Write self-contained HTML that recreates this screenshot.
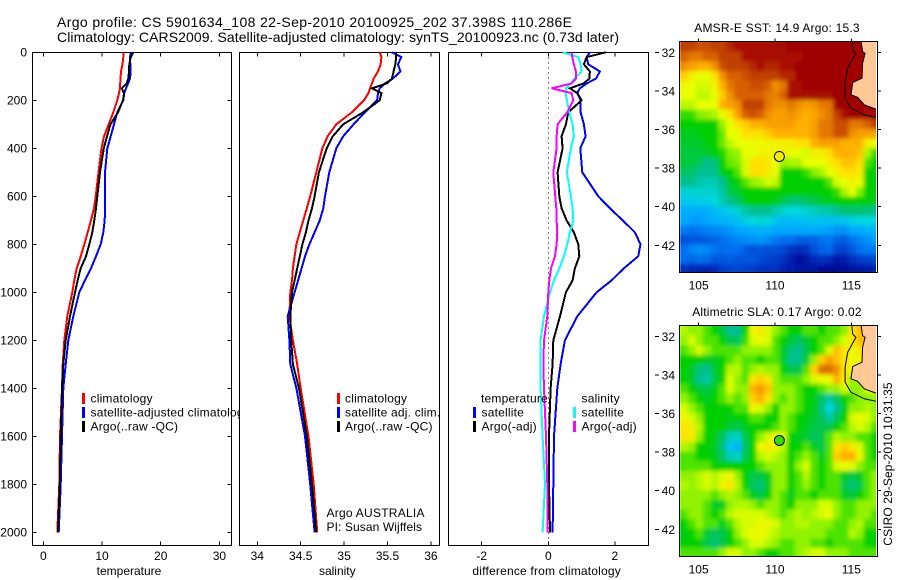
<!DOCTYPE html>
<html lang="en">
<head>
<meta charset="utf-8">
<title>Argo profile 5901634_108</title>
<style>
html,body{margin:0;padding:0;background:#fff;}
svg{display:block;font-family:"Liberation Sans",sans-serif;fill:#000;}
text{font-size:12px;}
</style>
</head>
<body>
<svg id="root" width="900" height="580" viewBox="0 0 900 580" xmlns="http://www.w3.org/2000/svg">
<defs>
<clipPath id="clip-sst"><rect x="679.5" y="42" width="196.5" height="230"/></clipPath>
<clipPath id="clip-sla"><rect x="679.5" y="326" width="196.5" height="230"/></clipPath>
<filter id="soften" x="-5%" y="-5%" width="110%" height="110%"><feGaussianBlur stdDeviation="2"/></filter>
</defs>
<text x="57" y="27" textLength="515" style="font-size:14px">Argo profile: CS 5901634_108 22-Sep-2010 20100925_202 37.398S 110.286E</text>
<text x="57" y="42" textLength="562" style="font-size:14px">Climatology: CARS2009. Satellite-adjusted climatology: synTS_20100923.nc (0.73d later)</text>
<g id="charts"></g>
<g id="maps"></g>
<text x="777" y="32" text-anchor="middle" style="letter-spacing:.2px">AMSR-E SST: 14.9 Argo: 15.3</text>
<text x="777" y="316" text-anchor="middle" style="letter-spacing:.2px">Altimetric SLA: 0.17 Argo: 0.02</text>
<text transform="translate(892,464) rotate(-90)" text-anchor="middle" style="letter-spacing:.1px">CSIRO 29-Sep-2010 10:31:35</text>
</svg>
<script>
const depths = [0,20,50,80,110,130,150,170,200,250,300,350,400,500,600,650,700,750,800,850,900,950,1000,1100,1200,1300,1400,1600,1800,2000];
const tempClim = [13.66,13.63,13.49,13.24,13.15,13.1,13.07,12.9,12.6,11.93,11.14,10.34,9.91,9.4,8.93,8.64,8.13,7.56,6.98,6.37,5.69,5.28,4.94,4.09,3.58,3.3,3.19,2.84,2.73,2.39];
const tempSat = [14.89,14.77,14.82,14.89,14.77,14.43,14.09,13.8,13.63,12.6,12.04,11.48,10.9,10.51,10.51,10.51,10.46,10.22,9.78,8.98,8.13,7.1,6.13,5.11,4.26,3.82,3.41,3.19,2.96,2.62];
const tempArgo = [15.33,14.89,14.65,14.6,14.48,14.2,13.36,13.75,13.58,12.73,11.45,10.85,10.31,9.66,9.2,8.98,8.69,8.35,7.84,7.27,6.37,5.86,5.4,4.55,3.82,3.41,3.19,2.96,2.79,2.5];
const salClim = [35.41,35.43,35.42,35.39,35.34,35.32,35.3,35.28,35.23,35.09,34.91,34.81,34.75,34.68,34.61,34.57,34.53,34.49,34.45,34.43,34.41,34.4,34.38,34.37,34.41,34.46,34.5,34.59,34.65,34.69];
const salSat = [35.55,35.66,35.62,35.65,35.56,35.47,35.41,35.39,35.38,35.24,35.11,34.99,34.91,34.83,34.78,34.76,34.72,34.66,34.6,34.55,34.51,34.47,34.43,34.35,34.37,34.38,34.45,34.55,34.61,34.66];
const salArgo = [35.6,35.6,35.59,35.57,35.55,35.49,35.32,35.43,35.41,35.22,34.99,34.87,34.8,34.71,34.66,34.63,34.59,34.56,34.52,34.49,34.46,34.43,34.4,34.38,34.39,34.41,34.48,34.57,34.63,34.68];
const diffTempSat = [1.25,1.15,1.2,1.55,1.43,1.15,0.95,0.87,0.97,0.97,1.07,1.12,0.96,1.02,1.5,1.85,2.23,2.6,2.77,2.7,2.27,1.9,1.45,0.87,0.5,0.37,0.27,0.17,0.15,0.13];
const diffTempArgo = [1.73,1.15,1.07,1.25,1.23,1.05,0.65,0.87,1,0.6,0.53,0.4,0.43,0.28,0.33,0.4,0.55,0.77,0.9,0.93,0.8,0.73,0.53,0.35,0.15,0.13,0.07,0.02,0.02,0.05];
const diffSalSat = [0.43,0.9,0.97,1,0.78,0.67,0.53,0.52,0.56,0.63,0.73,0.77,0.68,0.56,0.68,0.73,0.75,0.65,0.57,0.47,0.33,0.17,0.05,-0.13,-0.23,-0.23,-0.23,-0.17,-0.1,-0.17];
const diffSalArgo = [0.7,0.72,0.77,0.83,0.83,0.7,0.1,0.7,0.75,0.57,0.28,0.25,0.25,0.15,0.21,0.24,0.25,0.27,0.25,0.2,0.08,0.03,0,-0.03,-0.13,-0.15,-0.13,-0.07,-0.03,-0.03];
const depthTicks = [0,200,400,600,800,1000,1200,1400,1600,1800,2000];
const tempTicks = [0,10,20,30];
const salTicks = [34,34.5,35,35.5,36];
const diffTicks = [-2,0,2];
const lonTicks = [105,110,115];
const latTicks = [32,34,36,38,40,42];
const argoLon = 110.286;
const argoLat = 37.398;
const argoSst = 15.3;
const argoSla = 2;
const coastLon = [115.63,115.74,115.9,115.74,115.7,115.09,114.98,115.41,115.85,116.9];
const coastLat = [31.4,31.97,32.05,32.57,33.34,33.57,34.2,34.33,34.72,35.03];
const shelfLon = [115.02,115.09,115.3,114.76,114.59,114.59,114.98,115.85,116.9];
const shelfLat = [31.4,31.88,32.05,32.83,33.6,34.38,34.9,35.24,35.41];
const sstRows = [
[19,19,18.5,18.5,19,19,19.5,20,20,20,20,20,20,20.5,21,21,21,21,21,21,21,21,21,21,21,21],
[18,17.5,17.5,18,18,19,19,19,20,20,20,20,20,20,20,20,21,21,21,21,21,21,21,21,21,21],
[17,16.5,16,16,17,18.5,19,19,19,19.5,20,19.5,19.5,20,20,21,21,21,21,21,21,21,21,21,21,21],
[15.7,15.3,15,15,15.5,17,18,18,18.5,19,19,19,19,19.5,19.5,21,21,21,21,21,21,21,21,21,21,21],
[15.1,15,14.9,14.9,15.2,16,17.5,18,18,18.5,18.5,18,17,17.5,20,20.5,21,21,21,21,21,21,21,21,21,21],
[15,15,14.8,14.8,15,15.7,17,18,18,18,18,17.5,17.3,18,20,20,20.5,20.5,20.5,20.5,21,21,21,21,21,21],
[14.8,14.8,15,15,15,16,16.5,17,19,19,19,17.5,17,17,17.5,17,16.5,16.8,17.5,17.5,21,21,21,21,21,21],
[14.2,14.2,14.5,14.6,14.7,15,15.5,16.5,18,18.5,18,17,16.5,16.5,17,16.5,16,16.3,17,17.5,19,20,21,21,20.5,20.5],
[14,14,14,14,14,14.6,15,15.5,15.7,16,16,16.5,16.5,16.5,16.5,16,16,16.5,17.5,17.5,18.5,18.5,17.5,17.5,18,19],
[13.8,13.8,13.9,14,14,14.4,15,15,15.5,15.5,15.5,15.7,16,16,16,16,16,16.5,17.5,17.5,18.5,18.5,17,16.5,16.5,16.5],
[13.7,13.7,13.7,13.9,14,14.4,14.8,15,15,15.1,15.1,15.2,15.2,15.3,15.3,15.5,15.5,16,16.5,16.5,16.5,16,16,16,15.3,15],
[13.6,13.6,13.6,13.7,14,14.1,14.5,14.6,15,15,15.2,15.2,15.2,15.2,15,15,14.9,15.2,15.3,15.5,16,16,16,15.8,14.7,14.2],
[13.6,13.6,13.4,13,13.2,14,14.4,14.5,14.9,15.5,15.5,15.4,15,14.6,14.7,14.7,15,15,15,15.3,15.5,15.8,15.8,15.5,14.3,14],
[13.3,13.3,13,13,13,13.8,14,14.3,14.9,15.5,15.5,15.3,15,14,14,14,14.2,14.5,14.7,15,15.2,15.5,15.5,15.3,14,14],
[13,13,12.7,12.5,12.6,13,13.7,14,14.3,14.6,14.7,14.9,14.8,14,14,14,14,14,14,14.3,14.9,15,15.2,15,14,14],
[12.2,12.2,12.2,12.2,12.3,12.7,13.5,13.7,14,14,14,14,14,14,14,14,14,13.9,14,14,14.2,14.7,15,14.5,14,13.9],
[11.7,11.7,11.8,11.8,12,12.5,13,13.3,13.8,14,14,14,13.8,13.5,13.2,13.2,13.3,13.5,13.7,13.8,14,14,14,14,13.9,13.8],
[11.1,11.1,11,11.1,11.4,11.6,11.8,12.2,12.7,13,13,13,12.6,12.2,12,12,12.2,12.4,12.6,12.7,13,13.2,13.2,13.2,13.2,13],
[11,10.8,10.8,11,11.1,11.2,11.3,11.5,11.8,12,12.2,12,11.6,11.4,11.4,11.4,11.5,11.6,11.5,11.5,11.5,11.6,11.8,12,12,12],
[10.2,10,10.1,10.3,10.4,10.5,10.7,11,11,11.1,11.2,11.2,11,11,11,11,11,11,11,10.9,10.6,10.6,11,11,11.2,11.2],
[9.5,9.6,9.6,9.7,9.8,10,10.2,10.4,10.5,10.6,10.7,10.5,10.2,10,10,9.7,9.7,9.8,10,10.1,9.8,9.7,10.1,10.3,10.6,10.8],
[10,10.4,10.6,10.4,10.1,9.9,10,10,9.7,9.5,9.6,9.5,9.5,9.4,9,8.9,9,9.5,9.8,9.9,9.4,9.3,9.6,10,10.2,10.2],
[10,9.8,10,9.9,9.6,9.6,9.7,9.6,9.6,9.6,9.4,9.3,9.2,9,8.6,8.3,8.4,8.8,9,8.9,8.5,8.6,9,9.2,9.3,9.4],
[9,8.8,8.8,8.7,8.9,9.2,9.3,9.4,9.3,9.2,9.1,9,9,8.7,8.6,8.5,8.4,8.5,8.2,8.2,8.2,8.3,8.4,8.4,8.6,8.7]
];
const slaRows = [
[8,6,6,3,0,-5,-12,-12,0,12,15,10,6,3,0,0,3,3,0,3,3,6,15,20,20,20],
[6,10,6,3,3,0,-6,-8,2,10,12,10,3,0,-4,-8,-4,0,3,3,6,10,15,20,20,20],
[3,6,10,6,3,3,3,3,6,6,6,6,3,-3,-10,-12,-6,0,3,10,20,15,12,15,15,15],
[0,0,0,-3,-3,0,3,6,3,3,0,3,3,-3,-12,-12,-4,6,18,25,20,15,12,12,12,12],
[0,-3,-10,-12,-4,0,8,8,3,6,8,6,6,0,-6,-6,3,18,33,33,28,15,12,12,12,12],
[0,-3,-12,-14,-6,0,10,6,3,15,18,15,6,3,3,3,6,10,12,12,22,15,6,8,12,12],
[3,0,-4,-6,-2,3,10,6,6,22,26,20,6,6,6,3,0,0,3,6,6,10,6,6,10,12],
[6,3,0,-3,0,3,6,3,6,18,22,15,6,3,6,3,0,-2,-8,-14,-8,0,3,6,6,6],
[10,6,3,0,0,0,0,3,3,12,10,6,0,6,6,3,0,-3,-10,-20,-12,-3,6,6,8,6],
[12,10,6,0,0,0,-2,0,0,3,3,0,0,6,3,0,-2,-4,-8,-14,-6,0,10,12,10,6],
[15,14,8,0,0,0,-4,-6,-3,0,0,0,3,6,3,0,-3,-6,-6,-6,0,3,8,10,8,3],
[15,14,6,0,-2,-8,-16,-18,-6,0,6,10,12,10,0,-3,-4,-8,-6,3,8,6,6,3,3,0],
[8,6,0,0,-3,-10,-22,-24,-8,0,12,15,12,8,0,0,3,-3,-6,3,15,18,15,10,3,0],
[3,3,0,0,-2,-8,-16,-18,-6,0,8,10,8,6,0,3,6,3,-3,3,18,22,22,12,3,0],
[3,3,3,3,0,0,0,0,0,0,3,6,6,6,0,6,10,3,0,3,10,12,10,6,3,3],
[6,6,8,10,8,10,12,6,0,-6,-6,-2,6,6,0,3,8,3,0,3,3,-3,-6,-3,3,6],
[8,6,8,10,8,13,15,8,0,-8,-10,-3,6,6,0,3,6,3,0,3,3,-6,-10,-6,3,6],
[6,6,6,6,3,6,8,6,3,-3,-6,0,6,3,-2,3,3,0,3,3,3,-3,-5,0,3,6],
[6,6,6,3,-3,-3,6,8,8,6,3,6,6,3,0,6,6,6,10,10,6,3,3,6,6,6],
[3,6,6,3,0,3,8,10,10,10,10,8,6,3,6,8,6,8,10,12,6,3,3,6,6,3],
[0,3,6,3,3,-3,3,8,10,10,12,12,10,6,6,8,8,6,6,6,3,3,6,8,3,3],
[-2,0,3,-4,-8,-6,0,6,10,12,12,10,8,6,6,6,6,6,6,3,3,3,8,6,0,0],
[0,0,0,-6,-10,-6,0,3,6,10,10,8,6,3,3,6,6,3,3,0,3,3,3,3,0,0],
[3,3,3,3,3,6,10,10,6,6,3,0,0,3,3,6,8,10,10,6,6,6,3,3,3,3]
];
const rampColors = ['#00008c','#0030c0','#0070f0','#00a8ff','#00d8e0','#00c090','#00d000','#80f000','#e8ff00','#ffe000','#ffb000','#f09000','#d86000','#c04000','#a81000','#a00000'];
const sstStops = [8,9,10,11,12,13,14,14.5,15,15.5,16,17,18,19,20,21];
const slaStops = [-50,-40,-32,-25,-20,-12,0,5,11,16,22,28,35,42,50,60];

const SVGNS = 'http://www.w3.org/2000/svg';
const charts = document.getElementById('charts');
const maps = document.getElementById('maps');
const PANEL_TOP = 52.5, PANEL_BOTTOM = 545.5;
const yDepth = d => 52.3 + d * 0.24;

function mk(parent, tag, attrs, name) {
  const el = document.createElementNS(SVGNS, tag);
  for (const k in attrs) el.setAttribute(k, attrs[k]);
  
  
  parent.appendChild(el);
  return el;
}
function label(parent, x, y, str, anchor, name) {
  const t = mk(parent, 'text', { x: x, y: y, 'text-anchor': anchor }, name);
  t.textContent = str;
  return t;
}
function hLine(parent, x1, x2, y, name) {
  return mk(parent, 'line', { x1: x1, x2: x2, y1: y, y2: y, stroke: '#000', 'stroke-width': 1, 'shape-rendering': 'crispEdges' }, name);
}
function vLine(parent, x, y1, y2, name) {
  return mk(parent, 'line', { x1: x, x2: x, y1: y1, y2: y2, stroke: '#000', 'stroke-width': 1, 'shape-rendering': 'crispEdges' }, name);
}
function panel(id, left, right) {
  const g = mk(charts, 'g', {}, id + '-panel');
  mk(g, 'rect', { x: left, y: PANEL_TOP, width: right - left, height: PANEL_BOTTOM - PANEL_TOP, fill: '#fff', stroke: '#000', 'stroke-width': 1, 'shape-rendering': 'crispEdges' }, id + '-frame');
  return g;
}
function xAxis(g, id, ticks, xf, title, titleX) {
  ticks.forEach(v => {
    const x = xf(v);
    vLine(g, x, PANEL_TOP, PANEL_TOP + 4, id + '-top-tick');
    vLine(g, x, PANEL_BOTTOM - 4, PANEL_BOTTOM, id + '-bottom-tick');
    label(g, x, 560, String(v), 'middle', id + '-tick-label');
  });
  return label(g, titleX, 575, title, 'middle', id + '-axis-title');
}
function series(g, values, xf, color, name) {
  const pts = values.map((v, i) => xf(v).toFixed(1) + ',' + yDepth(depths[i]).toFixed(1)).join(' ');
  return mk(g, 'polyline', { points: pts, fill: 'none', stroke: color, 'stroke-width': 2, 'shape-rendering': 'crispEdges', 'stroke-linejoin': 'miter' }, name);
}
function legendItem(g, barX, textX, y, color, str, name) {
  if (color) mk(g, 'rect', { x: barX, y: y - 5, width: 3, height: 11, fill: color, 'shape-rendering': 'crispEdges' }, name + '-swatch');
  label(g, textX, y + 4.5, str, 'start', name).style.letterSpacing = '.2px';
}

/* temperature */
const xTemp = v => 43.3 + v * 5.87;
const p1 = panel('temperature', 32.5, 231.5);
xAxis(p1, 'temperature', tempTicks, xTemp, 'temperature', 129);
depthTicks.forEach(d => {
  const y = yDepth(d);
  hLine(p1, 32.5, 36.5, y, 'depth-left-tick');
  hLine(p1, 227.5, 231.5, y, 'depth-right-tick');
  label(p1, 27, y + 4.3, String(d), 'end', 'depth-tick-label');
});
series(p1, tempClim, xTemp, '#ff0000', 'temperature-climatology-line');
series(p1, tempSat, xTemp, '#0000ff', 'temperature-satellite-line');
series(p1, tempArgo, xTemp, '#000000', 'temperature-argo-line');
legendItem(p1, 82, 90.5, 398, '#ff0000', 'climatology', 'temperature-legend-climatology');
legendItem(p1, 82, 90.5, 412, '#0000ff', 'satellite-adjusted climatology', 'temperature-legend-satellite');
legendItem(p1, 82, 90.5, 426, '#000000', 'Argo(..raw -QC)', 'temperature-legend-argo');

/* salinity */
const xSal = v => 257.3 + (v - 34) * 86.8;
const p2 = panel('salinity', 239.5, 439.5);
xAxis(p2, 'salinity', salTicks, xSal, 'salinity', 337.3);
series(p2, salClim, xSal, '#ff0000', 'salinity-climatology-line');
series(p2, salSat, xSal, '#0000ff', 'salinity-satellite-line');
series(p2, salArgo, xSal, '#000000', 'salinity-argo-line');
legendItem(p2, 337, 345, 398, '#ff0000', 'climatology', 'salinity-legend-climatology');
legendItem(p2, 337, 345, 412, '#0000ff', 'satellite adj. clim.', 'salinity-legend-satellite');
legendItem(p2, 337, 345, 426, '#000000', 'Argo(..raw -QC)', 'salinity-legend-argo');
label(p2, 326.5, 517, 'Argo AUSTRALIA', 'start', 'float-country-note').style.letterSpacing = '.25px';
label(p2, 326.5, 531, 'PI: Susan Wijffels', 'start', 'float-pi-note').style.letterSpacing = '.1px';

/* difference */
const xDiff = v => 548.3 + v * 33.3;
const p3 = panel('difference', 448.5, 648.5);
mk(p3, 'line', { x1: xDiff(0), x2: xDiff(0), y1: PANEL_TOP, y2: PANEL_BOTTOM, stroke: '#000', 'stroke-width': 1, 'stroke-dasharray': '1 4', 'shape-rendering': 'crispEdges' }, 'zero-reference-line');
xAxis(p3, 'difference', diffTicks, xDiff, 'difference from climatology', 546.7).style.letterSpacing = '.2px';
series(p3, diffTempSat, xDiff, '#0000ff', 'difference-temperature-satellite-line');
series(p3, diffTempArgo, xDiff, '#000000', 'difference-temperature-argo-line');
series(p3, diffSalSat, xDiff, '#00ffff', 'difference-salinity-satellite-line');
series(p3, diffSalArgo, xDiff, '#ff00ff', 'difference-salinity-argo-line');
legendItem(p3, 0, 481, 398, null, 'temperature', 'difference-legend-temperature-heading');
legendItem(p3, 473, 481.5, 412, '#0000ff', 'satellite', 'difference-legend-temperature-satellite');
legendItem(p3, 473, 481.5, 426, '#000000', 'Argo(-adj)', 'difference-legend-temperature-argo');
legendItem(p3, 0, 581.5, 398, null, 'salinity', 'difference-legend-salinity-heading');
legendItem(p3, 573, 581.5, 412, '#00ffff', 'satellite', 'difference-legend-salinity-satellite');
legendItem(p3, 573, 581.5, 426, '#ff00ff', 'Argo(-adj)', 'difference-legend-salinity-argo');

/* maps */
const xLon = lon => 775 + (lon - 110) * 15.27;
function rampColor(v, stops) {
  if (v <= stops[0]) return rampColors[0];
  for (let i = 1; i < stops.length; i++) {
    if (v <= stops[i]) {
      const f = (v - stops[i - 1]) / (stops[i] - stops[i - 1]);
      const a = rampColors[i - 1], b = rampColors[i];
      let out = '#';
      for (let c = 1; c < 7; c += 2) {
        const ca = parseInt(a.substr(c, 2), 16), cb = parseInt(b.substr(c, 2), 16);
        out += Math.round(ca + (cb - ca) * f).toString(16).padStart(2, '0');
      }
      return out;
    }
  }
  return rampColors[rampColors.length - 1];
}
function drawMap(id, rows, stops, markerValue, top, clip) {
  const yLat = lat => top + 10.6 + (lat - 32) * 19.3;
  const g = mk(maps, 'g', {}, id + '-map');
  const body = mk(g, 'g', { 'clip-path': 'url(#' + clip + ')' }, id + '-map-area');
  const cells = mk(body, 'g', { id: id + '-cells' }, id + '-heatmap');
  rows.forEach((row, r) => {
    row.forEach((v, c) => {
      const lon = 103.8 + c * 0.5;
      const lat = 31.47 + r * 0.5;
      const x0 = xLon(lon), x1 = xLon(lon + 0.5), y0 = yLat(lat), y1 = yLat(lat + 0.5);
      mk(cells, 'rect', { x: x0.toFixed(2), y: y0.toFixed(2), width: (x1 - x0 + 0.3).toFixed(2), height: (y1 - y0 + 0.3).toFixed(2), fill: rampColor(v, stops), 'shape-rendering': 'crispEdges' }, id + '-cell');
    });
  });
  mk(body, 'use', { href: '#' + id + '-cells', filter: 'url(#soften)' }, id + '-heatmap-softened');
  const coastPts = coastLon.map((lon, i) => xLon(lon).toFixed(1) + ',' + yLat(coastLat[i]).toFixed(1));
  const shelfPts = shelfLon.map((lon, i) => xLon(lon).toFixed(1) + ',' + yLat(shelfLat[i]).toFixed(1));
  const landPts = coastPts.concat([xLon(116.9).toFixed(1) + ',' + yLat(31.4).toFixed(1)]);
  mk(body, 'polygon', { points: landPts.join(' '), fill: '#ffc896', stroke: 'none' }, id + '-land');
  mk(body, 'polyline', { points: coastPts.join(' '), fill: 'none', stroke: '#000', 'stroke-width': 1 }, id + '-coastline');
  mk(body, 'polyline', { points: shelfPts.join(' '), fill: 'none', stroke: '#000', 'stroke-width': 1 }, id + '-shelf-contour');
  mk(g, 'circle', { cx: xLon(argoLon), cy: yLat(argoLat), r: 5, fill: rampColor(markerValue, stops), stroke: '#000', 'stroke-width': 1 }, id + '-argo-marker');
  const left = 679.5, right = 877.5, bottom = top + 231;
  mk(g, 'rect', { x: left, y: top, width: right - left, height: bottom - top, fill: 'none', stroke: '#000', 'stroke-width': 1, 'shape-rendering': 'crispEdges' }, id + '-frame');
  lonTicks.forEach(lon => {
    vLine(g, xLon(lon), top - 3, top, id + '-lon-tick');
    label(g, xLon(lon), bottom + 17, String(lon), 'middle', id + '-lon-label');
  });
  latTicks.forEach(lat => {
    const y = yLat(lat);
    hLine(g, 655, 659, y, id + '-lat-tick-left');
    hLine(g, 877.5, 881, y, id + '-lat-tick-right');
    label(g, 675, y + 4.5, String(lat), 'end', id + '-lat-label');
  });
}
drawMap('sst', sstRows, sstStops, argoSst, 41.7, 'clip-sst');
drawMap('sla', slaRows, slaStops, argoSla, 325.7, 'clip-sla');
</script>
</body>
</html>
